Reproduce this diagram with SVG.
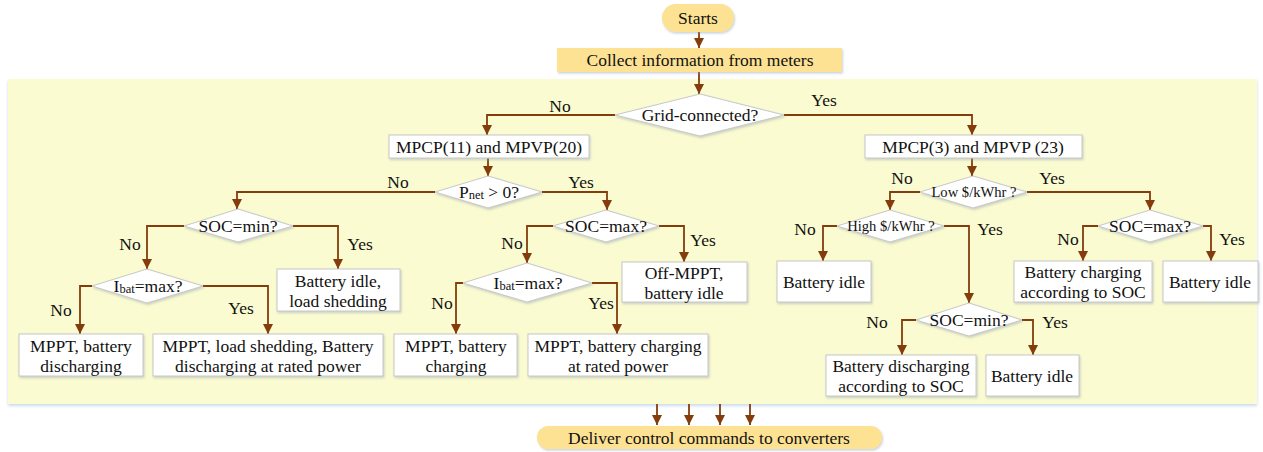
<svg xmlns="http://www.w3.org/2000/svg" width="1263" height="452" viewBox="0 0 1263 452">
<defs>
<style>
text{font-family:"Liberation Serif","Times New Roman",serif;font-size:17.5px;fill:#111;text-anchor:middle}
.sm{font-size:14.6px}
.sub{font-size:12.5px}
.box{fill:#fff;stroke:#c8c8c8;stroke-width:1;filter:url(#sh)}
.dia{fill:#fff;stroke:#c8c8c8;stroke-width:1;filter:url(#sh)}
.term{fill:#fde293;stroke:none;filter:url(#sh)}
.con{fill:none;stroke:#843c0c;stroke-width:1.8;marker-end:url(#ah)}
</style>
<marker id="ah" viewBox="0 0 10 10" refX="10" refY="5" markerWidth="10" markerHeight="10" markerUnits="userSpaceOnUse" orient="auto">
<path d="M0,0 L10,5 L0,10 z" fill="#843c0c"/>
</marker>
<filter id="sh" x="-10%" y="-20%" width="130%" height="160%">
<feDropShadow dx="1" dy="1.5" stdDeviation="1" flood-color="#8a9ab0" flood-opacity="0.45"/>
</filter>
<filter id="psh" x="-2%" y="-2%" width="104%" height="106%">
<feDropShadow dx="0" dy="2" stdDeviation="1.5" flood-color="#a8c4e0" flood-opacity="0.6"/>
</filter>
</defs>

<rect id="panel" x="8" y="79" width="1249" height="325" fill="#fafbd0" filter="url(#psh)"/>

<g id="connectors">
<path class="con" d="M699,32 V48"/>
<path class="con" d="M699,72 V94"/>
<path class="con" d="M615,115 H487 V135"/>
<path class="con" d="M784,115 H972 V135"/>
<path class="con" d="M488,158 V176"/>
<path class="con" d="M435,192 H237 V209"/>
<path class="con" d="M542,192 H607 V210"/>
<path class="con" d="M184,226 H147 V269"/>
<path class="con" d="M293,226 H338 V269"/>
<path class="con" d="M92,286 H80 V334"/>
<path class="con" d="M203,286 H268 V334"/>
<path class="con" d="M553,226 H527 V263"/>
<path class="con" d="M659,226 H684 V262"/>
<path class="con" d="M463,283 H456 V334"/>
<path class="con" d="M592,283 H617 V334"/>
<path class="con" d="M972,158 V176"/>
<path class="con" d="M920,192 H890 V210"/>
<path class="con" d="M1027,192 H1150 V210"/>
<path class="con" d="M837,226 H823 V261"/>
<path class="con" d="M944,226 H969 V303"/>
<path class="con" d="M1098,226 H1083 V261"/>
<path class="con" d="M1203,226 H1211 V261"/>
<path class="con" d="M916,320 H902 V355"/>
<path class="con" d="M1022,320 H1033 V355"/>
<path class="con" d="M657,404 V425"/>
<path class="con" d="M689,404 V425"/>
<path class="con" d="M720,404 V425"/>
<path class="con" d="M750,404 V425"/>
</g>

<g id="labels">
<text x="560" y="112">No</text>
<text x="824" y="106">Yes</text>
<text x="398" y="188">No</text>
<text x="581" y="188">Yes</text>
<text x="130" y="250">No</text>
<text x="360" y="250">Yes</text>
<text x="61" y="316">No</text>
<text x="241" y="314">Yes</text>
<text x="512" y="249">No</text>
<text x="703" y="246">Yes</text>
<text x="442" y="309">No</text>
<text x="601" y="309">Yes</text>
<text x="902" y="184">No</text>
<text x="1052" y="184">Yes</text>
<text x="805" y="235">No</text>
<text x="990" y="235">Yes</text>
<text x="1068" y="245">No</text>
<text x="1232" y="245">Yes</text>
<text x="877" y="328">No</text>
<text x="1055" y="328">Yes</text>
</g>

<g id="start"><rect class="term" x="662" y="4" width="72" height="28" rx="14"/><text x="698" y="24">Starts</text></g>
<g id="collect"><rect class="term" x="557" y="48" width="285" height="24"/><text x="700" y="66">Collect information from meters</text></g>

<g id="grid"><path class="dia" d="M700,94 L784,115 L700,136 L615,115 z"/><text x="700" y="121">Grid-connected?</text></g>

<g id="mpcp11"><rect class="box" x="389" y="135" width="200" height="23"/><text x="489" y="153">MPCP(11) and MPVP(20)</text></g>
<g id="pnet"><path class="dia" d="M488,176 L542,192 L488,208 L435,192 z"/><text x="489" y="198">P<tspan class="sub" dy="1">net</tspan><tspan dy="-1"> &gt; 0?</tspan></text></g>

<g id="socmin1"><path class="dia" d="M238,209 L293,226 L238,242 L184,226 z"/><text x="238" y="232">SOC=min?</text></g>
<g id="ibat1"><path class="dia" d="M147,269 L203,286 L147,303 L92,286 z"/><text x="148" y="292">I<tspan class="sub" dy="1">bat</tspan><tspan dy="-1">=max?</tspan></text></g>
<g id="idleshed"><rect class="box" x="277" y="269" width="123" height="42"/><text x="338" y="287">Battery idle,</text><text x="338" y="307">load shedding</text></g>
<g id="mpptdis"><rect class="box" x="19" y="334" width="124" height="42"/><text x="81" y="352">MPPT, battery</text><text x="81" y="372">discharging</text></g>
<g id="mpptshed"><rect class="box" x="153" y="334" width="230" height="42"/><text x="268" y="352">MPPT, load shedding, Battery</text><text x="268" y="372">discharging at rated power</text></g>

<g id="socmax1"><path class="dia" d="M606,210 L659,226 L606,242 L553,226 z"/><text x="606" y="232">SOC=max?</text></g>
<g id="ibat2"><path class="dia" d="M527,263 L592,283 L527,302 L463,283 z"/><text x="528" y="289">I<tspan class="sub" dy="1">bat</tspan><tspan dy="-1">=max?</tspan></text></g>
<g id="offmppt"><rect class="box" x="622" y="262" width="125" height="40"/><text x="684" y="279">Off-MPPT,</text><text x="684" y="299">battery idle</text></g>
<g id="mpptchg"><rect class="box" x="394" y="334" width="123" height="42"/><text x="456" y="352">MPPT, battery</text><text x="456" y="372">charging</text></g>
<g id="mpptrated"><rect class="box" x="528" y="334" width="180" height="42"/><text x="618" y="352">MPPT, battery charging</text><text x="618" y="372">at rated power</text></g>

<g id="mpcp3"><rect class="box" x="865" y="135" width="217" height="23"/><text x="973" y="153">MPCP(3) and MPVP (23)</text></g>
<g id="low"><path class="dia" d="M973,176 L1027,192 L973,208 L920,192 z"/><text class="sm" x="974" y="197">Low $/kWhr ?</text></g>
<g id="high"><path class="dia" d="M890,210 L944,226 L890,242 L837,226 z"/><text class="sm" x="891" y="231">High $/kWhr ?</text></g>
<g id="socmax2"><path class="dia" d="M1150,210 L1203,226 L1150,242 L1098,226 z"/><text x="1150" y="232">SOC=max?</text></g>
<g id="idle1"><rect class="box" x="777" y="261" width="94" height="41"/><text x="824" y="288">Battery idle</text></g>
<g id="chgsoc"><rect class="box" x="1014" y="261" width="138" height="41"/><text x="1083" y="278">Battery charging</text><text x="1083" y="298">according to SOC</text></g>
<g id="idle2"><rect class="box" x="1163" y="261" width="95" height="41"/><text x="1210" y="288">Battery idle</text></g>
<g id="socmin2"><path class="dia" d="M969,303 L1022,320 L969,336 L916,320 z"/><text x="969" y="326">SOC=min?</text></g>
<g id="dissoc"><rect class="box" x="826" y="355" width="150" height="41"/><text x="901" y="372">Battery discharging</text><text x="901" y="392">according to SOC</text></g>
<g id="idle3"><rect class="box" x="986" y="355" width="93" height="41"/><text x="1032" y="382">Battery idle</text></g>

<g id="deliver"><rect class="term" x="537" y="426" width="345" height="23" rx="11.5"/><text x="709" y="444">Deliver control commands to converters</text></g>
</svg>
